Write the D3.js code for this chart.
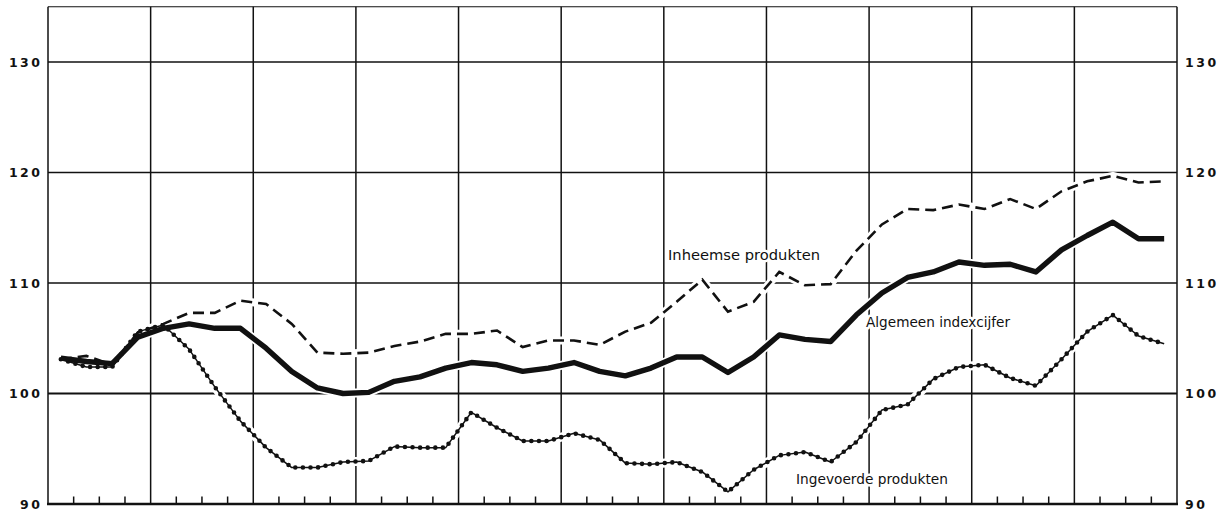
<!DOCTYPE html>
<html>
<head>
<meta charset="utf-8">
<script src="https://cdn.jsdelivr.net/npm/d3@7"></script>
<style>
  html, body { margin: 0; padding: 0; background: #fff; }
  svg { display: block; }
</style>
</head>
<body>
<svg id="chart" width="1228" height="514"></svg>
<script>
// ---- data (quarterly index numbers, 11 years x 4 quarters) ----
const yearCount = 11;
const quarterNames = ["I", "II", "III", "IV"];
const quarters = d3.range(yearCount).flatMap(y => quarterNames.map(q => `${y + 1}-${q}`));

const algemeen = [103.2, 102.9, 102.7, 105.1, 105.9, 106.3, 105.9, 105.9, 104.1, 102.0,
                  100.5, 100.0, 100.1, 101.1, 101.5, 102.3, 102.8, 102.6, 102.0, 102.3,
                  102.8, 102.0, 101.6, 102.3, 103.3, 103.3, 101.9, 103.3, 105.3, 104.9,
                  104.7, 107.1, 109.1, 110.5, 111.0, 111.9, 111.6, 111.7, 111.0, 113.0,
                  114.3, 115.5, 114.0, 114.0];
const inheemse = [103.1, 103.4, 102.6, 105.5, 106.3, 107.3, 107.3, 108.4, 108.1, 106.3,
                  103.7, 103.6, 103.7, 104.3, 104.7, 105.4, 105.4, 105.7, 104.2, 104.8,
                  104.8, 104.4, 105.6, 106.4, 108.3, 110.3, 107.4, 108.3, 111.0, 109.8,
                  109.9, 112.9, 115.3, 116.7, 116.6, 117.1, 116.7, 117.6, 116.7, 118.3,
                  119.2, 119.7, 119.1, 119.2];
const ingevoerde = [103.1, 102.4, 102.4, 105.6, 106.2, 104.0, 100.6, 97.5, 95.1, 93.3,
                    93.3, 93.8, 93.9, 95.2, 95.1, 95.1, 98.3, 96.9, 95.7, 95.7,
                    96.4, 95.8, 93.7, 93.6, 93.8, 92.9, 91.1, 93.1, 94.4, 94.7,
                    93.8, 95.6, 98.5, 99.0, 101.3, 102.4, 102.6, 101.4, 100.7, 103.1,
                    105.6, 107.1, 105.2, 104.5];
const yTicks = [90, 100, 110, 120, 130];
const yDomain = [90, 135];
const seriesLabels = ["Inheemse produkten", "Algemeen indexcijfer", "Ingevoerde produkten"];

// ---- layout ----
const L = 48, R = 1177, T = 6.75, B = 504;
const svg = d3.select("#chart");
const x = d3.scaleBand().domain(quarters).range([L, R]).padding(0);
const y = d3.scaleLinear().domain(yDomain).range([B, T]);
const cx = q => x(q) + x.bandwidth() / 2;
const ink = "#111";

// horizontal grid lines
svg.append("g").selectAll("line").data(yTicks.filter(v => v > 90)).join("line")
  .attr("x1", L).attr("x2", R)
  .attr("y1", d => y(d)).attr("y2", d => y(d))
  .attr("stroke", ink).attr("stroke-width", d => d === 100 ? 2.2 : 1.5);

// top border
svg.append("line").attr("x1", L).attr("x2", R).attr("y1", T).attr("y2", T)
  .attr("stroke", ink).attr("stroke-width", 1);

// vertical year lines
const yearStarts = quarters.filter((q, i) => i % 4 === 0 && i > 0);
svg.append("g").selectAll("line").data(yearStarts).join("line")
  .attr("x1", d => x(d)).attr("x2", d => x(d))
  .attr("y1", T).attr("y2", B)
  .attr("stroke", ink).attr("stroke-width", 1.5);

// frame left / right
svg.append("line").attr("x1", L).attr("x2", L).attr("y1", T).attr("y2", B)
  .attr("stroke", ink).attr("stroke-width", 1.5);
svg.append("line").attr("x1", R).attr("x2", R).attr("y1", T).attr("y2", B)
  .attr("stroke", ink).attr("stroke-width", 1.5);

// quarter ticks on bottom
const quarterStarts = quarters.filter((q, i) => i % 4 !== 0);
svg.append("g").selectAll("line").data(quarterStarts).join("line")
  .attr("x1", d => x(d)).attr("x2", d => x(d))
  .attr("y1", B).attr("y2", B - 7.5)
  .attr("stroke", ink).attr("stroke-width", 1.5);

// bottom axis line
svg.append("line").attr("x1", L - 1).attr("x2", R + 1).attr("y1", B).attr("y2", B)
  .attr("stroke", ink).attr("stroke-width", 2.4);

// y labels, left and right
const tickFont = "'DejaVu Sans', sans-serif";
function yLabels(anchor, xpos) {
  svg.append("g").selectAll("text").data(yTicks).join("text")
    .attr("x", xpos).attr("y", d => y(d))
    .attr("dy", "0.36em")
    .attr("text-anchor", anchor)
    .attr("font-family", tickFont).attr("font-size", 12.5).attr("font-weight", "bold")
    .attr("letter-spacing", "2.5px")
    .attr("fill", ink)
    .text(d => d);
}
yLabels("end", 42.5);
yLabels("start", 1185);

// ---- series labels (drawn under the lines, halo only clears the grid) ----
const labelPos = [
  { x: 668, y: 260, w: 152 },
  { x: 866, y: 327, w: 144 },
  { x: 796, y: 484, w: 152 }
];
svg.append("g").selectAll("text").data(seriesLabels).join("text")
  .attr("x", (d, i) => labelPos[i].x)
  .attr("y", (d, i) => labelPos[i].y)
  .attr("textLength", (d, i) => labelPos[i].w)
  .attr("lengthAdjust", "spacingAndGlyphs")
  .attr("font-family", "'DejaVu Sans', sans-serif")
  .attr("font-size", 13.5)
  .attr("fill", ink)
  .attr("stroke", "#fff").attr("stroke-width", 5).attr("paint-order", "stroke")
  .attr("stroke-linejoin", "round")
  .text(d => d);

// ---- series ----
const line = vals => d3.line()
  .x((d, i) => cx(quarters[i]))
  .y(d => y(d))
  .curve(d3.curveLinear)(vals);

const halos = svg.append("g");
halos.append("path").attr("d", line(ingevoerde)).attr("fill", "none")
  .attr("stroke", "#fff").attr("stroke-width", 9).attr("stroke-linejoin", "round");
halos.append("path").attr("d", line(inheemse)).attr("fill", "none")
  .attr("stroke", "#fff").attr("stroke-width", 8).attr("stroke-linejoin", "round");
halos.append("path").attr("d", line(algemeen)).attr("fill", "none")
  .attr("stroke", "#fff").attr("stroke-width", 9).attr("stroke-linejoin", "round");

const lines = svg.append("g");
// Ingevoerde: thin line with beads
lines.append("path").attr("d", line(ingevoerde)).attr("fill", "none")
  .attr("stroke", ink).attr("stroke-width", 1.5).attr("stroke-linejoin", "round");
lines.append("path").attr("d", line(ingevoerde)).attr("fill", "none")
  .attr("stroke", ink).attr("stroke-width", 4.6)
  .attr("stroke-linecap", "round").attr("stroke-dasharray", "0,7.6");
// Inheemse: dashed
lines.append("path").attr("d", line(inheemse)).attr("fill", "none")
  .attr("stroke", ink).attr("stroke-width", 2.6)
  .attr("stroke-dasharray", "11,6");
// Algemeen: heavy solid
lines.append("path").attr("d", line(algemeen)).attr("fill", "none")
  .attr("stroke", ink).attr("stroke-width", 5.4)
  .attr("stroke-linejoin", "round").attr("stroke-linecap", "butt");
</script>
</body>
</html>
